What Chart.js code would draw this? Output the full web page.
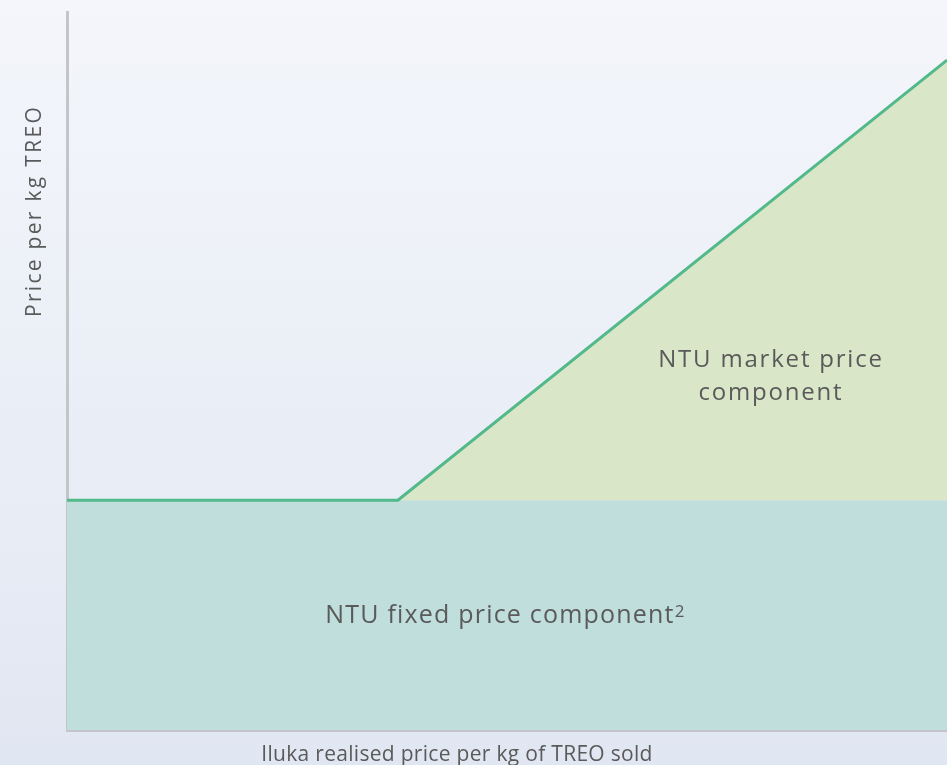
<!DOCTYPE html>
<html>
<head>
<meta charset="utf-8">
<script src="https://cdn.jsdelivr.net/npm/chart.js@4"></script>
<style>
  html, body { margin: 0; padding: 0; }
  #wrap { width: 947px; height: 765px; position: relative; }
</style>
</head>
<body>
<div id="wrap"><canvas id="chart"></canvas></div>
<script>
'use strict'

// x = realised price (index), y = price paid per kg TREO (index)
const fixedX = [0, 100];
const fixedY = [32, 32];
const marketX = [0, 37.6, 100];
const marketY = [32, 32, 93.3];

const fixedLabel = 'NTU fixed price component';
const marketLabel = ['NTU market price', 'component'];
const yTitle = 'Price per kg TREO';
const xTitle = 'Iluka realised price per kg of TREO sold';

const FONT = "'Open Sans', 'Noto Sans', sans-serif";
const TEXT = '#5a5a5a';

function toPoints(xs, ys) {
  return xs.map((x, i) => ({ x: x, y: ys[i] }));
}

const ctx = document.getElementById('chart');

// background gradient
const bgPlugin = {
  id: 'bg',
  beforeDraw(chart) {
    const c = chart.ctx;
    const g = c.createLinearGradient(0, 0, 0, chart.height);
    g.addColorStop(0, '#f4f6fb');
    g.addColorStop(1, '#e1e7f2');
    c.save();
    c.fillStyle = g;
    c.fillRect(0, 0, chart.width, chart.height);
    c.restore();
  }
};

// text labels in the areas + axis titles
const labelPlugin = {
  id: 'labels',
  afterDatasetsDraw(chart) {
    const c = chart.ctx;
    const xs = chart.scales.x;
    const ys = chart.scales.y;
    const area = chart.chartArea;
    c.save();
    c.fillStyle = TEXT;
    c.textBaseline = 'alphabetic';

    // market label, two lines
    c.textAlign = 'center';
    c.font = '24px ' + FONT;
    c.letterSpacing = '1.8px';
    c.fillText(marketLabel[0], xs.getPixelForValue(80.0), ys.getPixelForValue(50.6));
    c.fillText(marketLabel[1], xs.getPixelForValue(80.0), ys.getPixelForValue(46.0));

    // fixed label with superscript 2
    c.font = '25px ' + FONT;
    c.letterSpacing = '1.2px';
    const fx = xs.getPixelForValue(49.2);
    const fy = ys.getPixelForValue(14.9);
    const w = c.measureText(fixedLabel).width;
    c.textAlign = 'left';
    c.fillText(fixedLabel, fx - w / 2, fy);
    c.font = '17px ' + FONT;
    c.letterSpacing = '0px';
    c.fillText('2', fx + w / 2, fy - 6);

    // axis titles
    c.textAlign = 'center';
    c.font = '21px ' + FONT;
    c.letterSpacing = '0.3px';
    c.fillText(xTitle, area.left + 390, area.bottom + 31);
    c.font = '21px ' + FONT;
    c.letterSpacing = '2.3px';
    c.translate(area.left - 26, area.top + 199);
    c.rotate(-Math.PI / 2);
    c.fillText(yTitle, 0, 0);
    c.restore();
  }
};

new Chart(ctx, {
  type: 'line',
  data: {
    datasets: [{
      label: 'fixed',
      data: toPoints(fixedX, fixedY),
      borderWidth: 0,
      pointRadius: 0,
      fill: 'origin',
      backgroundColor: '#bfdedc',
      order: 2,
    }, {
      label: 'market',
      data: toPoints(marketX, marketY),
      borderColor: '#52b98a',
      borderWidth: 3,
      pointRadius: 0,
      fill: '-1',
      backgroundColor: '#d9e6c7',
      order: 1,
    }]
  },
  options: {
    responsive: true,
    maintainAspectRatio: false,
    animation: false,
    layout: { padding: { left: 59, top: 12, right: 0, bottom: 27 } },
    plugins: {
      legend: { display: false },
      tooltip: { enabled: false },
    },
    scales: {
      x: {
        type: 'linear',
        min: 0,
        max: 100,
        ticks: { display: false },
        grid: { display: false },
        border: { display: true, color: '#c3c5c9', width: 3 },
      },
      y: {
        min: 0,
        max: 100,
        ticks: { display: false },
        grid: { display: false },
        border: { display: true, color: '#c3c5c9', width: 3 },
      }
    }
  },
  plugins: [bgPlugin, labelPlugin]
});
</script>
</body>
</html>
